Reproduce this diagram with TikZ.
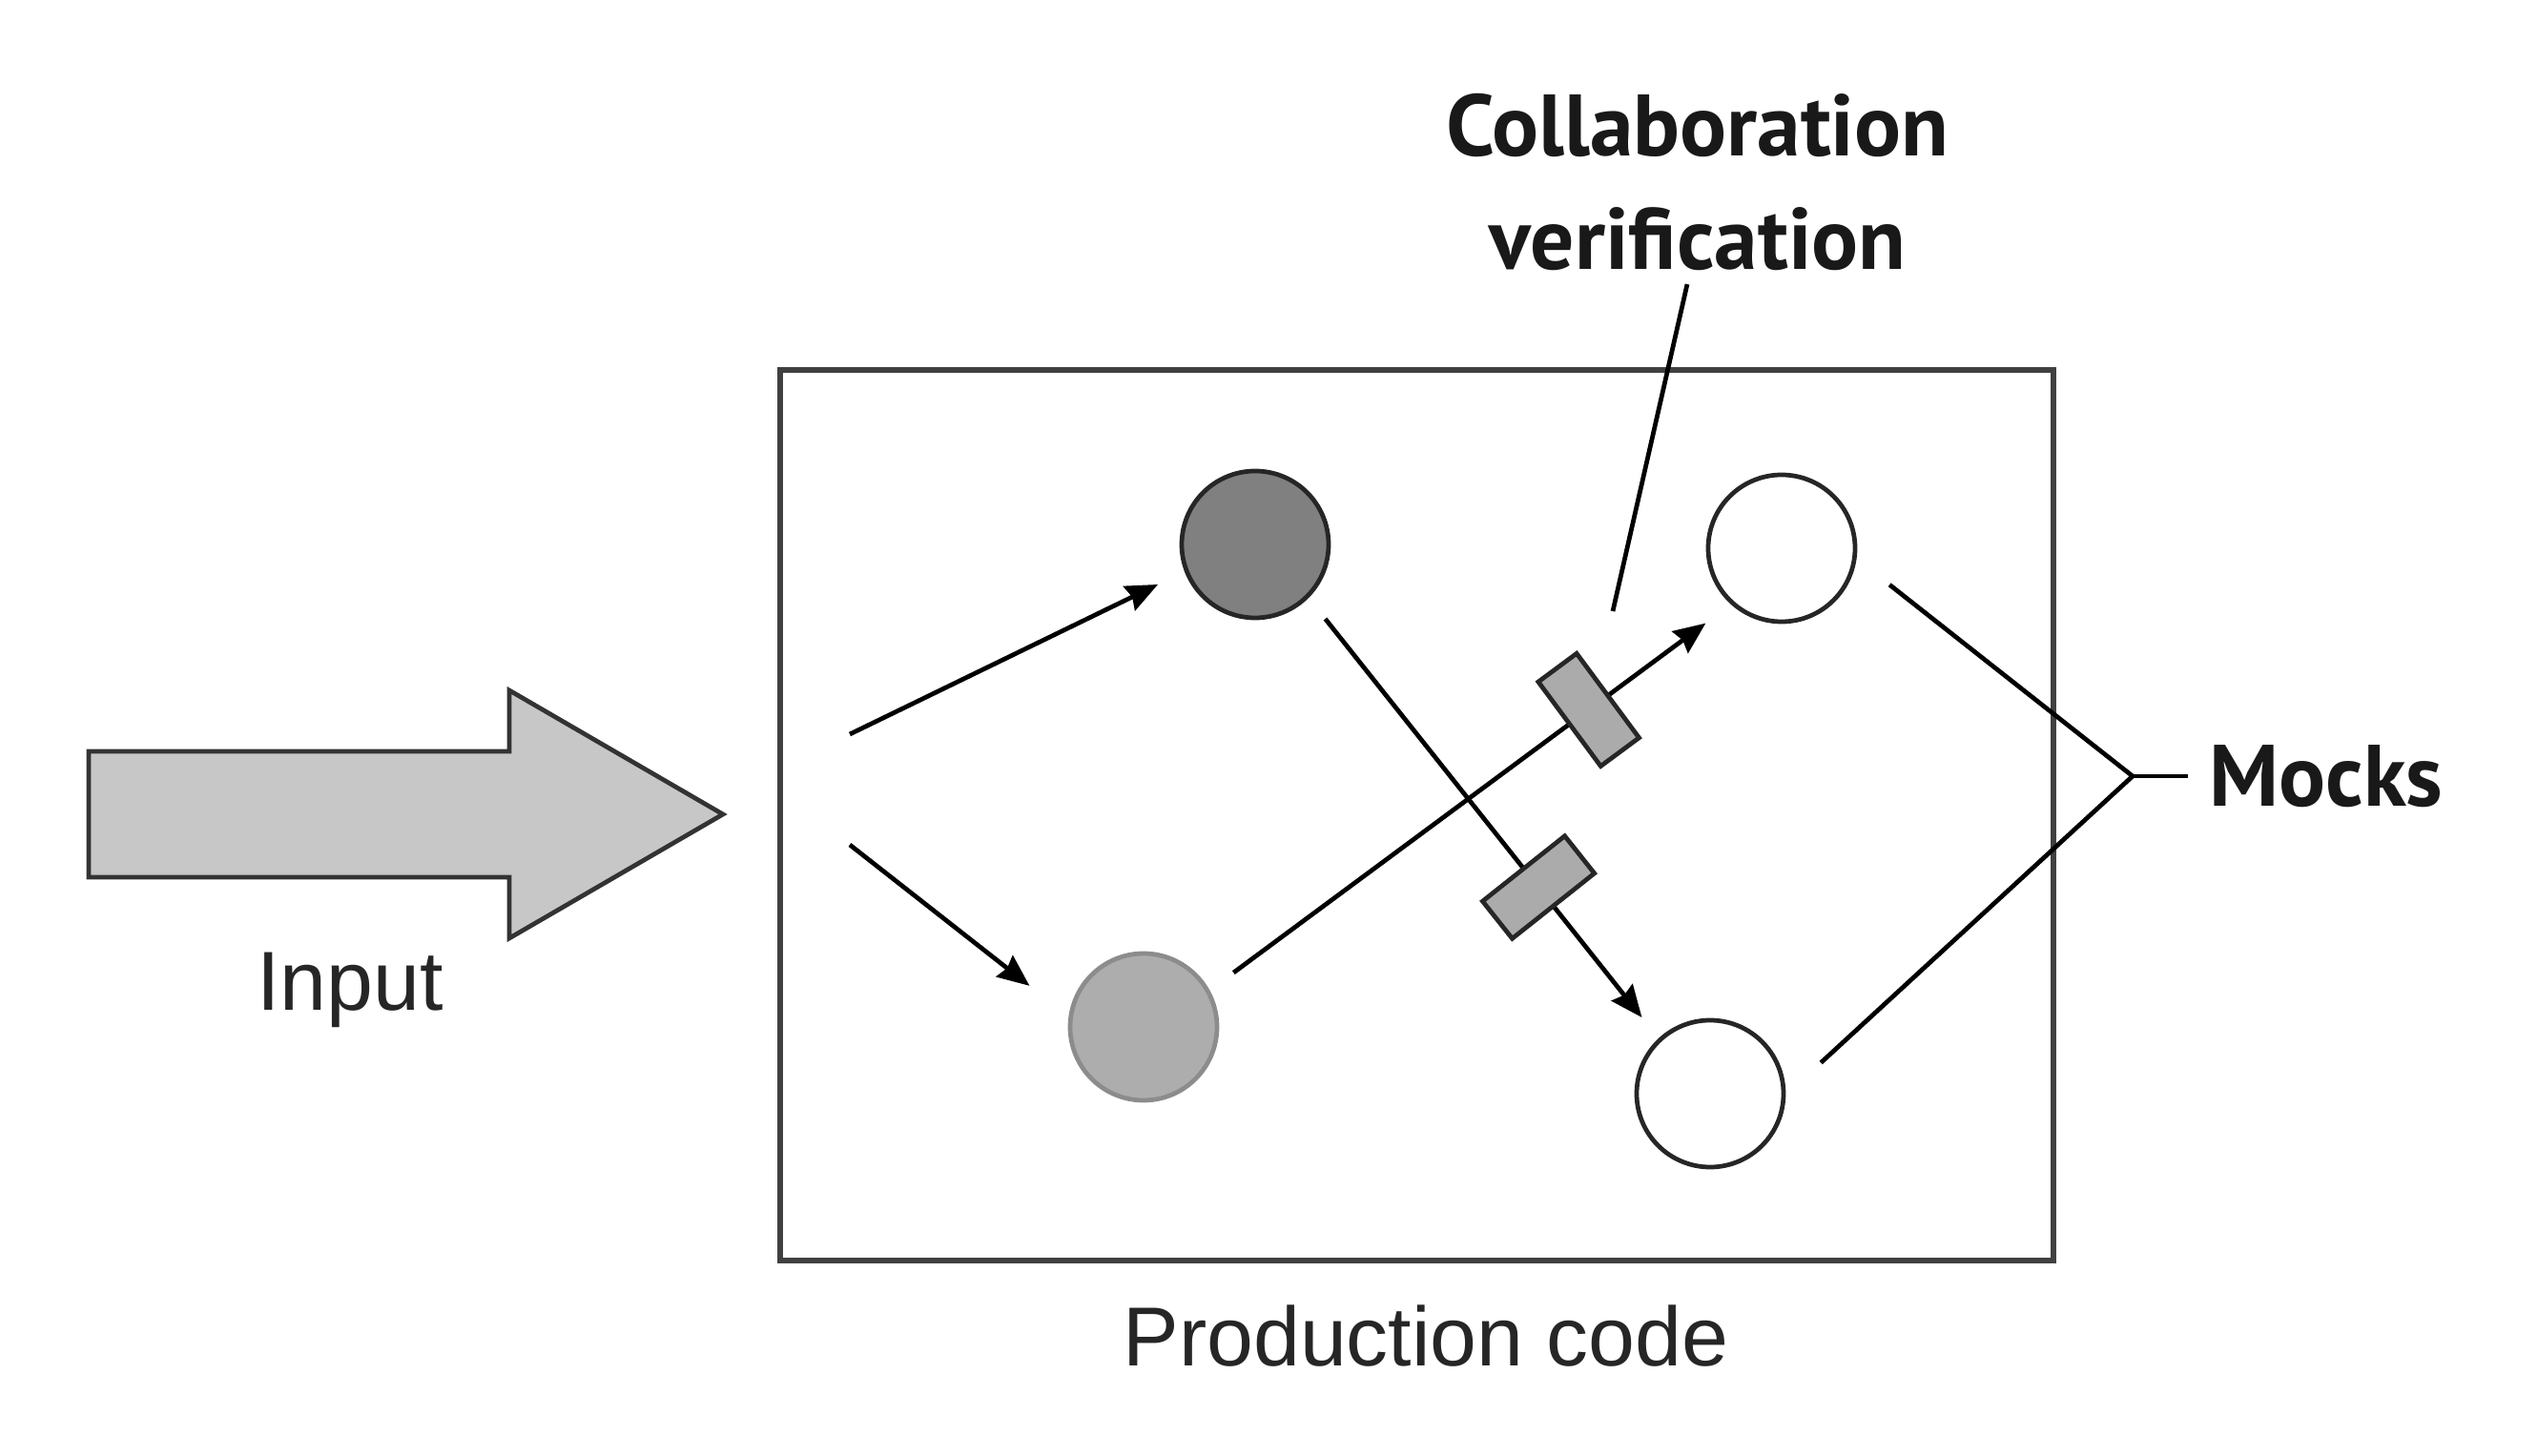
\documentclass[tikz,border=0pt]{standalone}
\usepackage{fontspec}
\setmainfont{Liberation Sans}
\newfontfamily\calloutfont{PT Sans}
\usetikzlibrary{arrows.meta}

\begin{document}
\begin{tikzpicture}[
    line width=1.35pt,
    unit/.style={circle, draw=black!85, minimum size=1.54cm, inner sep=0pt},
    link/.style={-{Stealth[length=9.5pt, width=8pt, inset=1pt]}, shorten <=0.3cm, shorten >=0.3cm},
    check/.style={rectangle, draw=black!85, fill=black!33, minimum width=0.5cm, minimum height=1.1cm, inner sep=0pt, sloped},
    plain/.style={font=\fontsize{25}{30}\selectfont, text=black!85},
    callout/.style={font=\calloutfont\bfseries\fontsize{26}{34}\selectfont, align=center, text=black!90}
]
    % Page = full image area
    \useasboundingbox (0, 0) rectangle (26.6, 15.26);

    % Big input arrow on the left
    \draw[fill=black!22, draw=black!80] (0.93, 6.06) -- (5.34, 6.06) -- (5.34, 5.42) -- (7.58, 6.72) -- (5.34, 8.02) -- (5.34, 7.38) -- (0.93, 7.38) -- cycle;
    \node[plain] (input) at (3.67, 4.88) {Input};

    % Production code box
    \node[draw=black!75, line width=1.6pt, minimum width=13.35cm, minimum height=9.34cm] (box) at (14.855, 6.71) {};
    \node[plain] (prod) at (14.95, 1.25) {Production code};

    % Units inside the box
    \node[unit, fill=black!50] (dark) at (13.16, 9.55) {};
    \node[unit, fill=black!32, draw=black!45] (light) at (11.99, 4.49) {};
    \node[unit] (mockA) at (18.68, 9.51) {};
    \node[unit] (mockB) at (17.93, 3.79) {};

    % Incoming calls
    \coordinate (in1) at (8.91, 7.56);
    \coordinate (in2) at (8.91, 6.40);
    \draw[link, shorten <=0pt, shorten >=0.31cm] (in1) -- (dark.201);
    \draw[link, shorten <=0pt, shorten >=0.52cm] (in2) -- (light.172);

    % Outgoing calls, each checked on the way
    \draw[link, shorten <=0.31cm, shorten >=0.33cm] (light.29) -- node[check, pos=0.727] (chk1) {} (mockA.228);
    \draw[link, shorten <=0.28cm, shorten >=0.28cm] (dark.-45) -- node[check, pos=0.657] (chk2) {} (mockB.133);

    % Collaboration verification label
    \node[callout] (collab) at (17.80, 13.35) {Collaboration\\verification};
    \coordinate (cv) at (16.91, 8.85);
    \draw ([xshift=-0.11cm]collab.south) -- (cv);

    % Mocks bracket
    \coordinate (apex) at (22.36, 7.12);
    \draw[shorten <=0.44cm] (mockA.-8) -- (apex);
    \draw[shorten <=0.5cm] (mockB.-1) -- (apex);
    \node[callout, anchor=west, inner sep=0.2cm] (mocks) at (22.94, 7.12) {Mocks};
    \draw (apex) -- (mocks);
\end{tikzpicture}
\end{document}
